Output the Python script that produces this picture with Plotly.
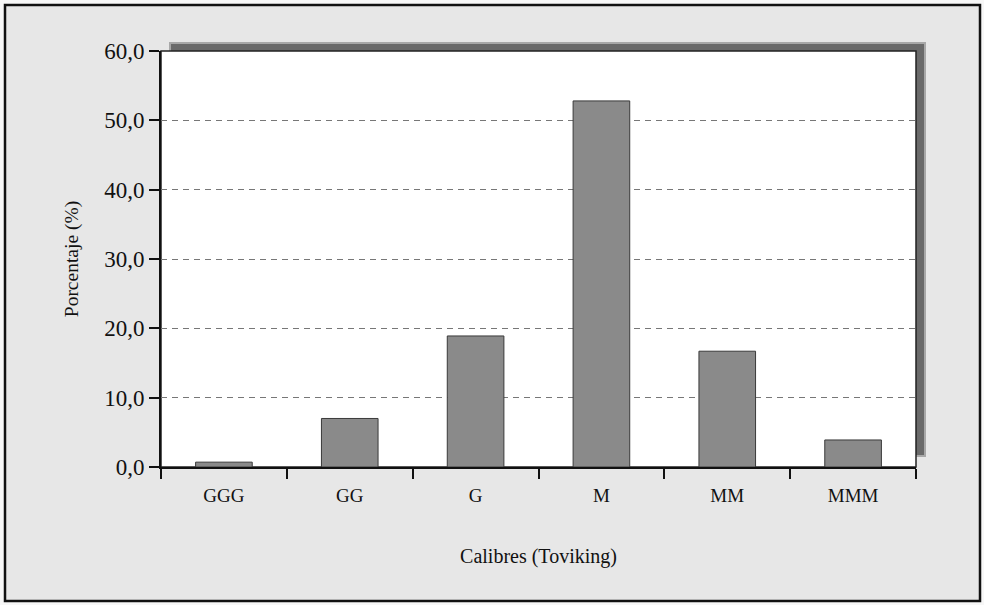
import plotly.graph_objects as go

categories = ["GGG", "GG", "G", "M", "MM", "MMM"]
values = [0.7, 7.0, 18.9, 52.8, 16.7, 3.9]
y_ticks = [0, 10, 20, 30, 40, 50, 60]

W, H = 984, 605
L, R, T, B = 161, 916, 51, 467  # plot area in pixels


def px(x):
    return (x - L) / (R - L)


def py(y):
    return (B - y) / (B - T)


fig = go.Figure(go.Bar(
    x=categories, y=values,
    marker=dict(color="#8a8a8a", line=dict(color="#3a3a3a", width=1)),
    width=0.45,
))

shapes = [
    # outer frame
    dict(type="rect", xref="paper", yref="paper", layer="below",
         x0=px(5), x1=px(980), y0=py(601), y1=py(5),
         fillcolor="#e7e7e7", line=dict(color="#111", width=2.5)),
    # shadow (soft)
    dict(type="rect", xref="paper", yref="paper", layer="below",
         x0=px(169), x1=px(926), y0=py(457), y1=py(42),
         fillcolor="#a8a8a8", line=dict(width=0)),
    dict(type="rect", xref="paper", yref="paper", layer="below",
         x0=px(171), x1=px(924), y0=py(455), y1=py(44),
         fillcolor="#6a6a6a", line=dict(width=0)),
    # plot area
    dict(type="rect", xref="paper", yref="paper", layer="below",
         x0=0, x1=1, y0=0, y1=1,
         fillcolor="white", line=dict(color="#222", width=1.5)),
]

fig.update_layout(
    width=W, height=H,
    margin=dict(l=L, r=W - R, t=T, b=H - B),
    paper_bgcolor="#f7f7f7",
    plot_bgcolor="rgba(0,0,0,0)",
    separators=", ",
    font=dict(family="Liberation Serif", color="#111"),
    showlegend=False,
    shapes=shapes,
    bargap=0.55,
)

fig.update_xaxes(
    type="category",
    tickson="boundaries",
    ticks="outside", ticklen=10, tickwidth=1.5, tickcolor="#111",
    ticklabelstandoff=10,
    showline=True, linecolor="#111", linewidth=2,
    showgrid=False,
    tickfont=dict(size=19, family="Liberation Serif", color="#111"),
    title=dict(text="Calibres (Toviking)", font=dict(size=20, family="Liberation Serif"), standoff=44),
)

fig.update_yaxes(
    range=[0, 60],
    tickvals=y_ticks,
    tickformat=".1f",
    ticks="outside", ticklen=10, tickwidth=1.5, tickcolor="#111",
    showline=True, linecolor="#111", linewidth=2,
    showgrid=True, gridcolor="#777", griddash="6px,5px", gridwidth=1,
    zeroline=False,
    tickfont=dict(size=23, family="Liberation Serif", color="#111"),
    title=dict(text="Porcentaje (%)", font=dict(size=19.5, family="Liberation Serif"), standoff=20),
)

fig.write_html(
    "out.html",
    config={"displayModeBar": False},
    post_script="document.body.style.margin='0';document.body.style.overflow='hidden';",
)
